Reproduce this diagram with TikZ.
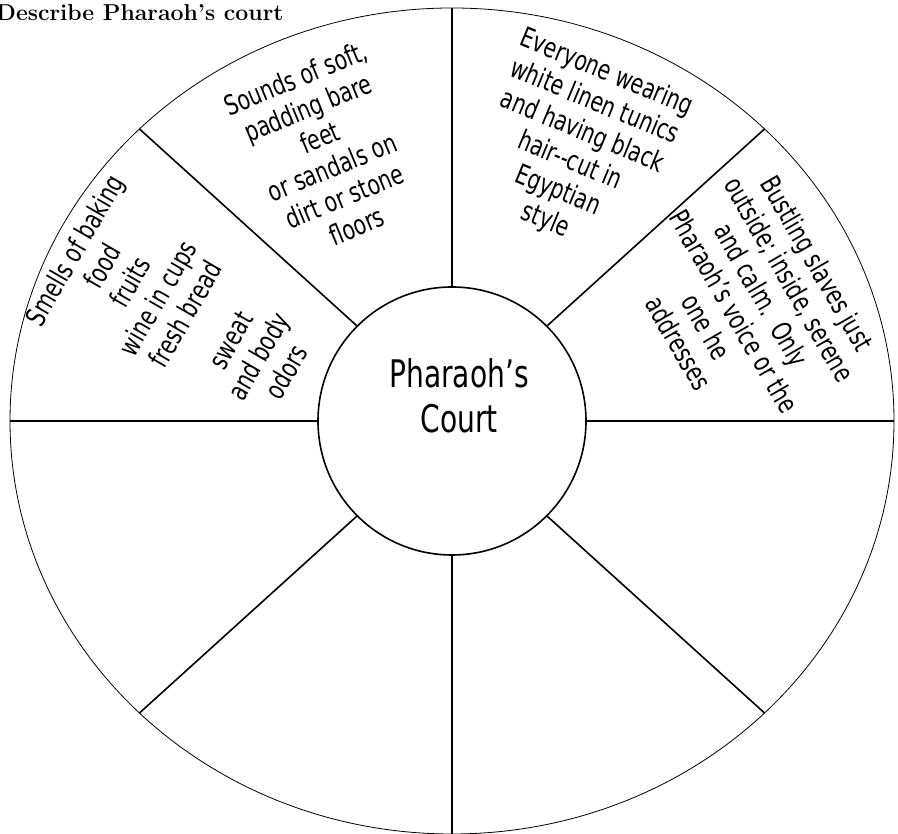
\documentclass[tikz,border=0pt]{standalone}
\usepackage{fontspec}
\usetikzlibrary{calc}
\newfontfamily\wheelfont[FakeStretch=0.74]{DejaVu Sans}

\begin{document}
\begin{tikzpicture}[x=1pt,y=1pt,
    spoke/.style={line width=1.6pt},
    sector/.style={font=\wheelfont\fontsize{27.5}{32}\selectfont, align=center, inner sep=0pt}]
  \useasboundingbox (0,0) rectangle (898,834);
  % \draw[help lines] (0,0) grid[step=50] (898,834);

  \node[anchor=base east, font=\bfseries\fontsize{23}{28}\selectfont] (title) at (287,813) {Describe Pharaoh’s court};

  % wheel
  \coordinate (C) at (452,413);
  \draw[line width=0.8pt] (C) ellipse [x radius=442pt, y radius=413pt];
  \node[circle, draw, line width=1.6pt, minimum size=268pt, inner sep=0pt] (court) at (C) {};
  \node[font=\wheelfont\fontsize{38}{45}\selectfont, align=center] (courtlabel) at (459,438) {Pharaoh’s\\Court};

  \foreach \a in {0,45,...,315} {
    \coordinate (rim\a) at ($(C)+(\a:442pt and 413pt)$);
    \draw[spoke] (court.\a) -- (rim\a);
  }

  % sector texts
  \node[sector, rotate=22.5] (sounds) at (326,682) {Sounds of soft,\\padding bare\\feet\\or sandals on\\dirt or stone\\floors};
  \node[sector, rotate=-22.5] (clothing) at (576,687) {Everyone wearing\\white linen tunics\\and having black\\hair-{}-cut in\\Egyptian\\style};
  \node[sector, rotate=-60] (bustle) at (748,531) {Bustling slaves just\\outside; inside, serene\\and calm.\ \ Only\\Pharaoh’s voice or the\\one he\\addresses};
  \node[sector, rotate=60] (smells) at (180,523) {Smells of baking\\food\\fruits\\wine in cups\\fresh bread\\[20pt]sweat\\and body\\odors};
\end{tikzpicture}
\end{document}
